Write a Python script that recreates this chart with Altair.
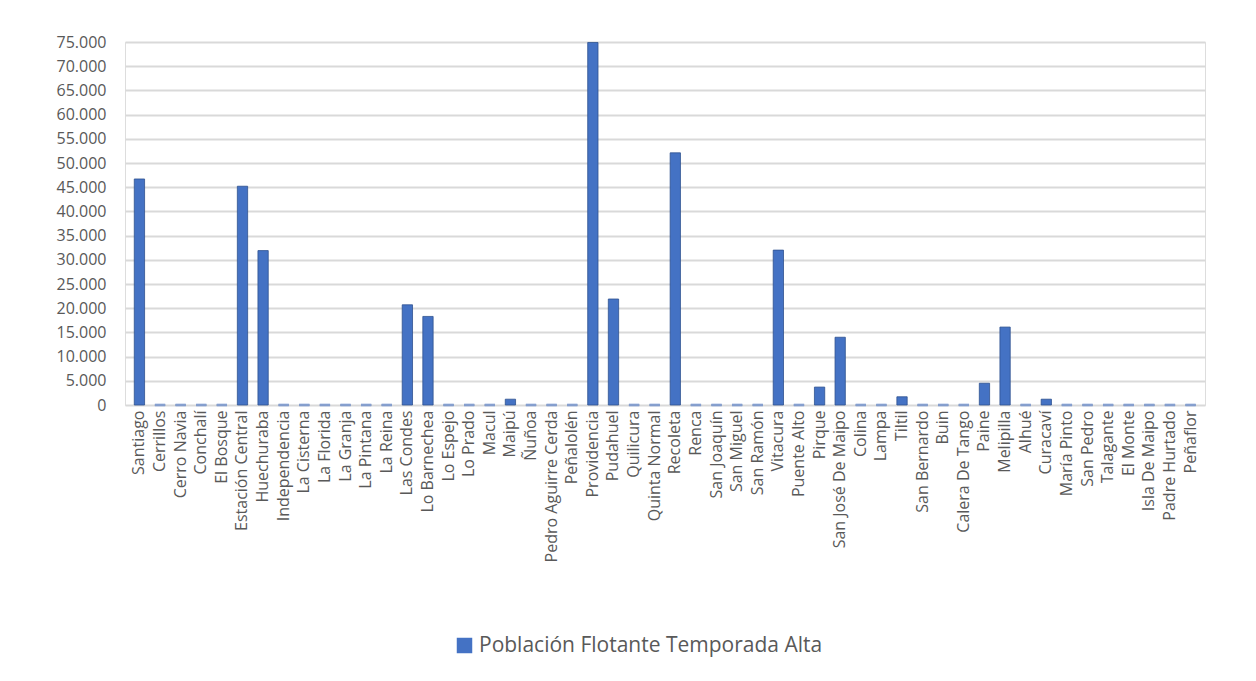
import altair as alt
import pandas as pd

comunas = ["Santiago", "Cerrillos", "Cerro Navia", "Conchalí", "El Bosque", "Estación Central",
           "Huechuraba", "Independencia", "La Cisterna", "La Florida", "La Granja", "La Pintana",
           "La Reina", "Las Condes", "Lo Barnechea", "Lo Espejo", "Lo Prado", "Macul", "Maipú",
           "Ñuñoa", "Pedro Aguirre Cerda", "Peñalolén", "Providencia", "Pudahuel", "Quilicura",
           "Quinta Normal", "Recoleta", "Renca", "San Joaquín", "San Miguel", "San Ramón",
           "Vitacura", "Puente Alto", "Pirque", "San José De Maipo", "Colina", "Lampa", "Tiltil",
           "San Bernardo", "Buin", "Calera De Tango", "Paine", "Melipilla", "Alhué", "Curacaví",
           "María Pinto", "San Pedro", "Talagante", "El Monte", "Isla De Maipo", "Padre Hurtado",
           "Peñaflor"]
valores = [46700, 0, 0, 0, 0, 45200,
           31900, 0, 0, 0, 0, 0,
           0, 20700, 18300, 0, 0, 0, 1200,
           0, 0, 0, 74900, 21900, 0,
           0, 52100, 0, 0, 0, 0,
           32000, 0, 3700, 14000, 0, 0, 1700,
           0, 0, 0, 4500, 16100, 0, 1200,
           0, 0, 0, 0, 0, 0,
           0]
serie = "Población Flotante Temporada Alta"
y_ticks = list(range(0, 75001, 5000))

df = pd.DataFrame({"comuna": comunas, "valor": valores, "serie": serie})

FONT = "Open Sans"
GRAY = "#595959"

x_enc = alt.X("comuna:N", sort=comunas, title=None,
              scale=alt.Scale(paddingInner=0.5, paddingOuter=0.45),
              axis=alt.Axis(labelAngle=-90, labelAlign="right", labelBaseline="middle",
                            labelPadding=5, ticks=False, domain=False, grid=False,
                            labelFont=FONT, labelFontSize=16, labelColor=GRAY,
                            labelOverlap=False, labelLimit=300))
y_enc = alt.Y("valor:Q", title=None,
              scale=alt.Scale(domain=[0, 75000], nice=False),
              axis=alt.Axis(values=y_ticks, ticks=False, domain=False,
                            labelExpr="replace(format(datum.value, ','), ',', '.')",
                            labelOverlap=False,
                            labelPadding=19, labelFont=FONT, labelFontSize=16,
                            labelColor=GRAY, gridColor="#D9D9D9", gridWidth=2))

bars = alt.Chart(df).mark_bar(stroke="#2F528F", strokeWidth=0.8).encode(
    x=x_enc,
    y=y_enc,
    color=alt.Color("serie:N", title=None,
                    scale=alt.Scale(domain=[serie], range=["#4472C4"]),
                    legend=alt.Legend(orient="none", legendX=329, legendY=593,
                                      symbolType="square", symbolSize=240,
                                      symbolStrokeWidth=0, labelOffset=4,
                                      labelFont=FONT, labelFontSize=21, labelColor=GRAY,
                                      labelLimit=600)),
)

zeros = alt.Chart(df).transform_filter("datum.valor == 0").mark_tick(
    color="#8EA9DB", thickness=3, bandSize=10
).encode(x=x_enc, y=y_enc)

chart = alt.layer(bars, zeros).properties(
    width=1080, height=363,
    padding={"left": 117, "top": 34, "right": 30, "bottom": 268},
    autosize=alt.AutoSizeParams(type="none"),
).configure_view(stroke=None).configure(background="white")

chart.save("out.html", embed_options={"renderer": "svg", "actions": False})
